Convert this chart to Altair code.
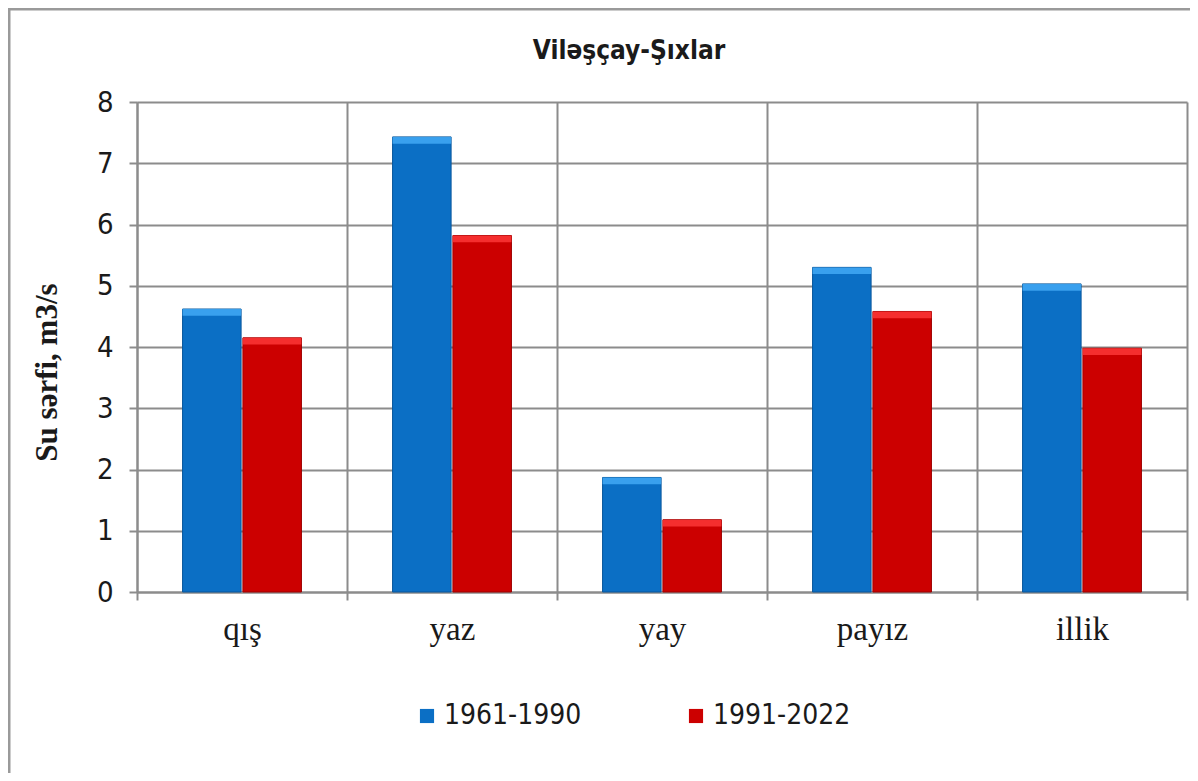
import altair as alt
import pandas as pd

categories = ["qış", "yaz", "yay", "payız", "illik"]
series = ["1961-1990", "1991-2022"]
values_1961_1990 = [4.62, 7.43, 1.87, 5.30, 5.03]
values_1991_2022 = [4.15, 5.82, 1.18, 4.58, 3.98]
y_ticks = [0, 1, 2, 3, 4, 5, 6, 7, 8]
chart_title = "Viləşçay-Şıxlar"
y_title = "Su sərfi, m3/s"

colors = ["#0B6FC5", "#CC0000"]
highlight = ["#45ADF7", "#FF3A3A"]
strokes = ["#08579C", "#9E0000"]
grid_c = "#8C8C8C"
sans = "'Liberation Sans Narrow', 'DejaVu Sans Condensed', Lato, sans-serif"
serif = "'Liberation Serif', 'DejaVu Serif', serif"

rows = []
for c, a, b in zip(categories, values_1961_1990, values_1991_2022):
    rows.append({"season": c, "period": series[0], "value": a})
    rows.append({"season": c, "period": series[1], "value": b})
df = pd.DataFrame(rows)

x_enc = alt.X(
    "season:N", sort=categories,
    scale=alt.Scale(paddingInner=0, paddingOuter=0),
    axis=alt.Axis(
        title=None, labelAngle=0, grid=True, tickBand="extent",
        gridColor=grid_c, gridWidth=2, domainColor=grid_c, domainWidth=2,
        tickColor=grid_c, tickWidth=2, tickSize=8,
        labelFont=serif, labelFontSize=33, labelColor="#1a1a1a", labelPadding=13,
    ),
)
xo_enc = alt.XOffset("period:N", sort=series,
                     scale=alt.Scale(paddingInner=0.03, paddingOuter=0.755))
y_axis = alt.Axis(
    values=y_ticks, format="d", title=y_title, titleFont=serif, titleFontWeight="bold",
    titleFontSize=31, titleColor="#1a1a1a", titleAngle=270, titleX=-90, titleY=270,
    titleAlign="center", titleBaseline="middle",
    grid=True, gridColor=grid_c, gridWidth=2, domainColor=grid_c, domainWidth=2,
    tickColor=grid_c, tickWidth=2, tickSize=8,
    labelFont=sans, labelFontSize=29, labelColor="#1a1a1a", labelPadding=16,
)

bars = alt.Chart(df).mark_bar(strokeWidth=1).encode(
    x=x_enc,
    xOffset=xo_enc,
    y=alt.Y("value:Q", scale=alt.Scale(domain=[0, 8], nice=False), axis=y_axis),
    color=alt.Color(
        "period:N", sort=series, scale=alt.Scale(domain=series, range=colors),
        legend=alt.Legend(
            title=None, orient="none", legendX=276, legendY=600,
            direction="horizontal", symbolType="square", symbolSize=200,
            symbolStrokeWidth=0, labelFont=sans, labelFontSize=28,
            labelColor="#1a1a1a", columnPadding=100, labelOffset=3,
        ),
    ),
    stroke=alt.Stroke("period:N", sort=series,
                      scale=alt.Scale(domain=series, range=strokes), legend=None),
)

caps = alt.Chart(df).transform_calculate(
    top="datum.value - 0.11"
).mark_bar(opacity=0.8).encode(
    x=alt.X("season:N", sort=categories),
    xOffset=alt.XOffset("period:N", sort=series),
    y=alt.Y("value:Q"),
    y2=alt.Y2("top:Q"),
    fill=alt.Fill("period:N", sort=series,
                  scale=alt.Scale(domain=series, range=highlight), legend=None),
)

title_df = pd.DataFrame({"t": [chart_title]})
title = alt.Chart(title_df).mark_text(
    font=sans, fontSize=26, fontWeight="bold", color="#1a1a1a",
    align="center", baseline="alphabetic",
).encode(text="t:N", x=alt.value(492), y=alt.value(-43))

frame_df = pd.DataFrame({"k": [0]})
top_line = alt.Chart(frame_df).mark_rule(color="#9a9a9a", strokeWidth=3).encode(
    x=alt.value(-129), x2=alt.value(1053), y=alt.value(-93))
left_line = alt.Chart(frame_df).mark_rule(color="#9a9a9a", strokeWidth=3).encode(
    x=alt.value(-128), y=alt.value(-94), y2=alt.value(679))

chart = alt.layer(bars, caps, title, top_line, left_line).resolve_scale(
    fill="independent", stroke="independent"
).properties(
    width=1050, height=490,
    autosize=alt.AutoSizeParams(type="none"),
    padding={"left": 129, "top": 94, "right": 3, "bottom": 181},
    background="white",
).configure_view(stroke=None)

chart.save("out.html", embed_options={"renderer": "svg", "actions": False})
